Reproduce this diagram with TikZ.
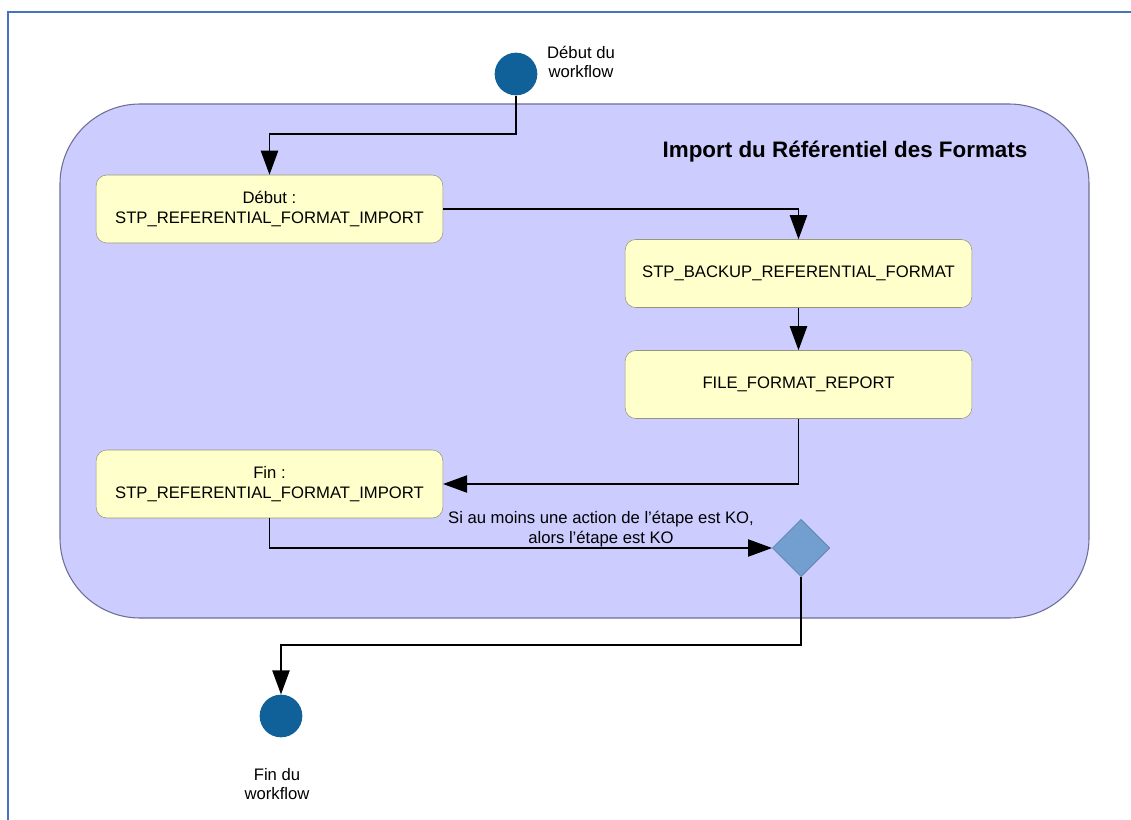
\documentclass[tikz,border=0pt]{standalone}
\usepackage{fontspec}
\setmainfont{Liberation Sans}
\usepackage{xcolor}
\usepackage{tikz}
\usetikzlibrary{arrows.meta,shapes.geometric}
\definecolor{wfblue}{RGB}{16,97,154}
\definecolor{wfdiamond}{RGB}{114,159,207}
\definecolor{wfzone}{RGB}{204,204,255}
\definecolor{wfzoneline}{RGB}{110,110,150}
\definecolor{wfstep}{RGB}{255,255,204}
\definecolor{wfstepline}{RGB}{150,150,120}
\definecolor{wfframe}{RGB}{70,115,190}
\newcommand{\wftxt}{\fontsize{12.5}{14.8}\selectfont}

\begin{document}
\begin{tikzpicture}[x=0.75pt,y=-0.75pt,
    etape/.style={draw=wfstepline,fill=wfstep,rounded corners=8pt,minimum width=260pt,minimum height=51pt,align=center,font=\wftxt},
    etat/.style={circle,fill=wfblue,minimum size=32pt,inner sep=0pt},
    lbl/.style={align=center,font=\wftxt},
    fleche/.style={-{Triangle[length=18pt,width=13pt]},line width=0.9pt,black}]
    \useasboundingbox (0,0) rectangle (1131,820);
    \draw[wfframe,line width=1pt] (8,820) -- (8,12) -- (1131,12);

    % zone du workflow
    \draw[wfzoneline,fill=wfzone,line width=0.8pt,rounded corners=60pt] (60,104) rectangle (1089,618);
    \node[font=\fontsize{16.8}{19}\selectfont\bfseries] (titre) at (845,152) {Import du Référentiel des Formats};

    \node[etat] (debut) at (516,74) {};
    \node[lbl] (debutlbl) at (581,62) {Début du\\workflow};

    \node[etape] (etape1) at (269.5,209) {Début :\\STP\_REFERENTIAL\_FORMAT\_IMPORT};
    \node[etape] (etape2) at (798.5,273.5) {STP\_BACKUP\_REFERENTIAL\_FORMAT};
    \node[etape] (etape3) at (798.5,384.5) {FILE\_FORMAT\_REPORT};
    \node[etape] (etape4) at (269.5,484) {Fin :\\STP\_REFERENTIAL\_FORMAT\_IMPORT};

    \node[diamond,fill=wfdiamond,draw=wfdiamond!80!black,line width=0.5pt,minimum width=43pt,minimum height=43pt,inner sep=0pt] (choix) at (801,548) {};
    \node[lbl] (condlbl) at (601,529) {Si au moins une action de l’étape est KO,\\alors l’étape est KO};

    \node[etat] (fin) at (281,716) {};
    \node[lbl] (finlbl) at (277,784) {Fin du\\workflow};

    \draw[fleche] (debut.south) -- (debut.south |- 0,134) -| (etape1.north);
    \draw[fleche] (etape1.east) -| (etape2.north);
    \draw[fleche] (etape2.south) -- (etape3.north);
    \draw[fleche] (etape3.south) |- (etape4.east);
    \draw[fleche] (etape4.south) |- (choix.west);
    \draw[fleche] (choix.south) -- (choix.south |- 0,645) -| (fin.north);
\end{tikzpicture}
\end{document}
